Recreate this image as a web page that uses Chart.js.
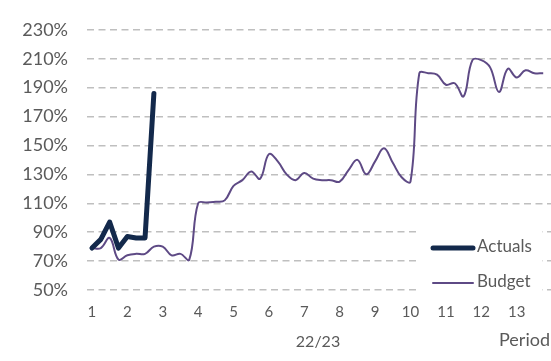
<!DOCTYPE html>
<html>
<head>
<meta charset="utf-8">
<script src="https://cdn.jsdelivr.net/npm/chart.js@4/dist/chart.umd.min.js"></script>
<style>
  html, body { margin: 0; padding: 0; background: #fff; }
  #wrap { width: 551px; height: 361px; position: relative; }
</style>
</head>
<body>
<div id="wrap"><canvas id="chart"></canvas></div>
<script>
// Period tick labels (13 four-week periods)
const periodLabels = ['1', '2', '3', '4', '5', '6', '7', '8', '9', '10', '11', '12', '13'];
const yearLabel = '22/23';
const axisLabel = 'Period';

// weekly values, 4 weeks per period (%)
const actualsValues = [79, 85, 97, 79, 87, 86, 86, 186];
const budgetValues = [
    79, 79, 86, 71, 74, 75, 75, 80, 80, 74, 75, 71,
    110, 110.5, 111, 112, 122, 126, 132, 127, 144, 139, 130, 126,
    131, 127, 126, 126, 125, 133, 140, 130, 139, 148, 138, 128,
    125, 200, 200, 199, 192, 193, 184, 209, 209, 204, 187, 203,
    197, 202, 200, 200
];
const yTicks = [50, 70, 90, 110, 130, 150, 170, 190, 210, 230];

const textColor = '#5a5a5a';
const actualsColor = '#13294b';
const budgetColor = '#5e4a85';

// week index -> period position on the x axis
const toPoints = vals => vals.map((v, i) => ({ x: 1 + i / 4, y: v }));

// legend box drawn inside the plot, bottom right
const legendPlugin = {
    id: 'insideLegend',
    afterDatasetsDraw(chart) {
        const ctx = chart.ctx;
        ctx.save();
        ctx.fillStyle = '#ffffff';
        ctx.fillRect(416, 222, 126, 74);

        const rows = [
            { ds: chart.data.datasets[0], y: 248 },
            { ds: chart.data.datasets[1], y: 283 }
        ];
        rows.forEach(r => {
            ctx.strokeStyle = r.ds.borderColor;
            ctx.lineWidth = r.ds.borderWidth;
            ctx.lineCap = 'round';
            ctx.beginPath();
            ctx.moveTo(433, r.y);
            ctx.lineTo(473, r.y);
            ctx.stroke();
            ctx.fillStyle = textColor;
            ctx.font = '17px Lato';
            ctx.textAlign = 'left';
            ctx.textBaseline = 'middle';
            ctx.fillText(r.ds.label, 477, r.y - 1);
        });

        // axis captions
        ctx.font = '16px Lato';
        ctx.textAlign = 'center';
        ctx.fillText(yearLabel, 318, 342);
        ctx.font = '18px Lato';
        ctx.textAlign = 'left';
        ctx.fillText(axisLabel, 499, 340);
        ctx.restore();
    }
};

new Chart(document.getElementById('chart'), {
    type: 'line',
    data: {
        datasets: [
            {
                label: 'Actuals',
                data: toPoints(actualsValues),
                borderColor: actualsColor,
                borderWidth: 5,
                pointRadius: 0,
                tension: 0,
                borderJoinStyle: 'round',
                borderCapStyle: 'round'
            },
            {
                label: 'Budget',
                data: toPoints(budgetValues),
                borderColor: budgetColor,
                borderWidth: 2,
                pointRadius: 0,
                tension: 0.4
            }
        ]
    },
    options: {
        responsive: true,
        maintainAspectRatio: false,
        animation: false,
        layout: { padding: { top: 26, right: 0, left: 0, bottom: 0 } },
        plugins: {
            legend: { display: false },
            tooltip: { enabled: false }
        },
        scales: {
            x: {
                type: 'linear',
                min: 0.86,
                max: 13.97,
                afterBuildTicks: s => { s.ticks = periodLabels.map((l, i) => ({ value: i + 1 })); },
                afterFit: s => { s.height = 71; },
                grid: { display: false, drawTicks: false },
                border: { display: false },
                ticks: {
                    color: textColor,
                    font: { family: 'Lato', size: 15 },
                    padding: 13,
                    autoSkip: false,
                    maxRotation: 0,
                    callback: (v, i) => periodLabels[i]
                }
            },
            y: {
                min: 50,
                max: 230,
                afterBuildTicks: s => { s.ticks = yTicks.map(v => ({ value: v })); },
                afterFit: s => { s.width = 87; },
                grid: { color: '#bfbfbf', lineWidth: 1.5, drawTicks: false },
                border: { display: false, dash: [7, 4.5] },
                ticks: {
                    color: textColor,
                    font: { family: 'Lato', size: 18 },
                    padding: 19,
                    callback: v => v + '%'
                }
            }
        }
    },
    plugins: [legendPlugin]
});
</script>
</body>
</html>
